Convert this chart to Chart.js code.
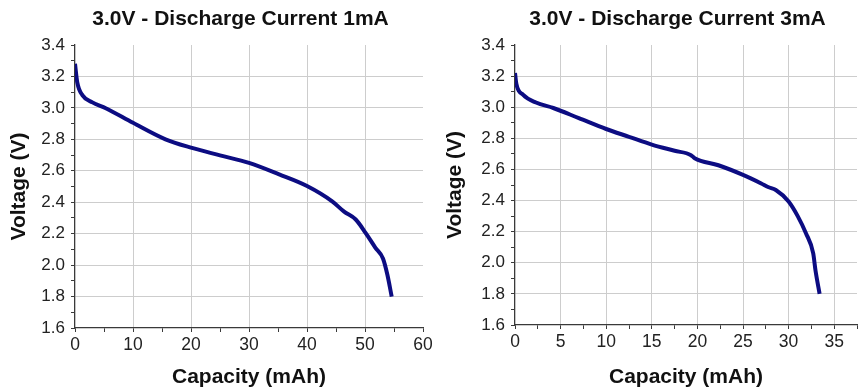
<!DOCTYPE html>
<html>
<head>
<meta charset="utf-8">
<script src="https://cdn.jsdelivr.net/npm/chart.js@4/dist/chart.umd.min.js"></script>
<style>
  html, body { margin: 0; padding: 0; background: #fff; }
  body { width: 858px; height: 392px; position: relative; overflow: hidden; }
  #left { position: absolute; left: 0; top: 0; }
  #right { position: absolute; left: 430px; top: 0; }
</style>
</head>
<body>
<canvas id="left" width="445" height="392"></canvas>
<canvas id="right" width="430" height="392"></canvas>
<script>
// 1 mA discharge
const capacity1 = [0, 0.4, 1.3, 3, 5.3, 10, 15.6, 20, 25, 30, 35.2, 40, 44.4, 46.4, 48.4, 50.1, 51.8, 53.1, 53.85, 54.6];
const voltage1 = [3.28, 3.16, 3.08, 3.035, 2.998, 2.905, 2.80, 2.747, 2.698, 2.65, 2.577, 2.503, 2.404, 2.34, 2.29, 2.205, 2.11, 2.042, 1.94, 1.80];

// 3 mA discharge
const capacity3 = [0, 0.15, 0.9, 2.3, 4.2, 7, 10, 12.5, 15, 17.5, 19.3, 19.7, 22.3, 25, 27, 27.75, 28.6, 30, 31, 31.9, 32.7, 32.95, 33.4];
const voltage3 = [3.22, 3.15, 3.08, 3.03, 2.995, 2.93, 2.86, 2.81, 2.76, 2.72, 2.692, 2.672, 2.627, 2.565, 2.51, 2.487, 2.468, 2.394, 2.30, 2.19, 2.06, 1.95, 1.80];

const titles = ['3.0V - Discharge Current 1mA', '3.0V - Discharge Current 3mA'];
const xTitle = 'Capacity (mAh)';
const yTitle = 'Voltage (V)';

const FONT = "'Liberation Sans', Arial, Helvetica, sans-serif";
const GRID = '#cdcdcd';
const AXIS = '#3a3a3a';
const TEXT = '#222';
const LINE = '#0c0c82';

// draws the chart heading centred a little left of the plot area
const headingPlugin = {
  id: 'heading',
  afterDraw(chart, args, opts) {
    const { ctx, chartArea } = chart;
    ctx.save();
    ctx.font = 'bold 21px ' + FONT;
    ctx.fillStyle = '#111';
    ctx.textAlign = 'center';
    ctx.textBaseline = 'alphabetic';
    ctx.fillText(opts.text, (chartArea.left + chartArea.right) / 2 - 8.5, 25);
    ctx.restore();
  }
};

function makeChart(canvasId, caps, volts, cfg) {
  const points = caps.map((c, i) => ({ x: c, y: volts[i] }));
  return new Chart(document.getElementById(canvasId), {
    type: 'line',
    data: {
      datasets: [{
        data: points,
        borderColor: LINE,
        borderWidth: 4,
        pointRadius: 0,
        cubicInterpolationMode: 'monotone',
        fill: false
      }]
    },
    options: {
      responsive: false,
      animation: false,
      layout: { padding: { top: 45, right: cfg.padRight, bottom: 0, left: 0 } },
      plugins: {
        legend: { display: false },
        tooltip: { enabled: false },
        heading: { text: cfg.title }
      },
      scales: {
        x: {
          type: 'linear',
          min: 0,
          max: cfg.xMax,
          afterFit: (scale) => { scale.height = cfg.xHeight; },
          ticks: {
            stepSize: cfg.xStep,
            autoSkip: false,
            maxRotation: 0,
            padding: 3,
            color: TEXT,
            font: { family: FONT, size: 17.5 },
            callback: (v) => (v % cfg.xMajor === 0 ? String(v) : '')
          },
          grid: {
            color: (ctx) => (ctx.tick && ctx.tick.value % cfg.xMajor === 0 && ctx.tick.value !== 0 && ctx.tick.value < cfg.xMax ? GRID : 'rgba(0,0,0,0)'),
            tickColor: AXIS,
            tickLength: 4,
            lineWidth: 1
          },
          border: { color: AXIS, width: 1.3 },
          title: {
            display: true,
            text: xTitle,
            color: '#111',
            font: { family: FONT, size: 21, weight: 'bold' },
            padding: { top: 0, bottom: 2 }
          }
        },
        y: {
          min: 1.6,
          max: 3.4,
          afterFit: (scale) => { scale.width = cfg.yWidth; },
          ticks: {
            stepSize: 0.1,
            autoSkip: false,
            padding: 6,
            color: TEXT,
            font: { family: FONT, size: 17 },
            callback: (v) => (Math.round(v * 10) % 2 === 0 ? v.toFixed(1) : '')
          },
          grid: {
            color: (ctx) => {
              if (!ctx.tick) return 'rgba(0,0,0,0)';
              const k = Math.round(ctx.tick.value * 10);
              return k % 2 === 0 && k > 16 && k < 34 ? GRID : 'rgba(0,0,0,0)';
            },
            tickColor: AXIS,
            tickLength: 4,
            lineWidth: 1
          },
          border: { color: AXIS, width: 1.3 },
          title: {
            display: true,
            text: yTitle,
            color: '#111',
            font: { family: FONT, size: 21, weight: 'bold' },
            padding: { top: cfg.yTitlePad, bottom: 0 }
          }
        }
      }
    },
    plugins: [headingPlugin]
  });
}

makeChart('left', capacity1, voltage1, {
  title: titles[0], xMax: 60, xStep: 5, xMajor: 10,
  xHeight: 64, yWidth: 75, yTitlePad: 7, padRight: 22
});

makeChart('right', capacity3, voltage3, {
  title: titles[1], xMax: 37.5, xStep: 2.5, xMajor: 5,
  xHeight: 67, yWidth: 85, yTitlePad: 13, padRight: 0
});
</script>
</body>
</html>
